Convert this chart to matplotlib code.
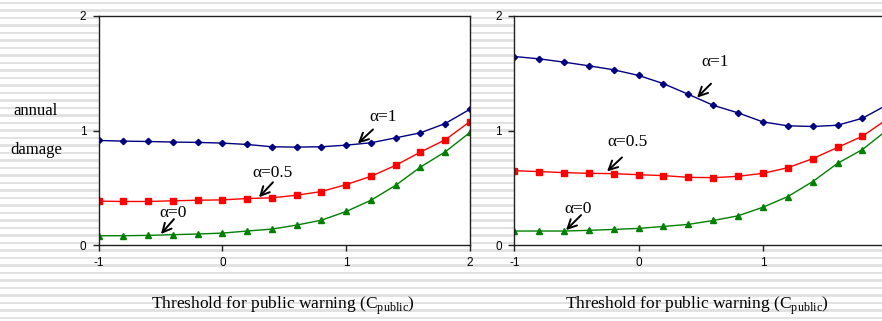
import numpy as np
from matplotlib import pyplot as plt

plt.rcParams['font.family'] = 'Liberation Serif'
plt.rcParams['mathtext.fontset'] = 'custom'
plt.rcParams['mathtext.rm'] = 'Liberation Serif'

# threshold values (x axis)
c_public = [-1.0, -0.8, -0.6, -0.4, -0.2, 0.0, 0.2, 0.4, 0.6, 0.8,
            1.0, 1.2, 1.4, 1.6, 1.8, 2.0]

# left chart
left_a1 = [0.913, 0.907, 0.904, 0.899, 0.896, 0.890, 0.878, 0.858, 0.855, 0.858,
           0.872, 0.893, 0.936, 0.980, 1.061, 1.186]
left_a05 = [0.383, 0.380, 0.380, 0.386, 0.391, 0.394, 0.406, 0.412, 0.435, 0.467,
            0.528, 0.600, 0.696, 0.812, 0.919, 1.078]
left_a0 = [0.081, 0.081, 0.084, 0.090, 0.096, 0.104, 0.122, 0.139, 0.174, 0.217,
           0.293, 0.391, 0.522, 0.681, 0.814, 0.983]

# right chart
right_a1 = [1.646, 1.626, 1.597, 1.565, 1.530, 1.481, 1.409, 1.316, 1.220, 1.154,
            1.075, 1.041, 1.035, 1.046, 1.107, 1.225]
right_a05 = [0.649, 0.641, 0.632, 0.626, 0.623, 0.614, 0.606, 0.591, 0.588, 0.600,
             0.626, 0.675, 0.754, 0.852, 0.950, 1.100]
right_a0 = [0.122, 0.122, 0.122, 0.128, 0.136, 0.145, 0.162, 0.180, 0.214, 0.255,
            0.330, 0.423, 0.554, 0.713, 0.834, 1.005]

x_labels_left = ['-1', '0', '1', '2']
x_labels_right = ['-1', '0', '1', '']   # "2" falls off the slide
y_labels = ['0', '1', '2']

# label text, arrow head, arrow tail, text position
left_notes = [("α=1", (1.094, 0.887), (1.216, 1.009), (1.296, 1.122)),
              ("α=0.5", (0.295, 0.417), (0.408, 0.548), (0.408, 0.626)),
              ("α=0", (-0.497, 0.096), (-0.392, 0.226), (-0.40, 0.278))]
right_notes = [("α=1", (0.470, 1.287), (0.582, 1.409), (0.614, 1.60)),
               ("α=0.5", (-0.254, 0.643), (-0.134, 0.765), (-0.087, 0.896)),
               ("α=0", (-0.584, 0.130), (-0.463, 0.261), (-0.488, 0.313))]

fig = plt.figure(figsize=(8.82, 3.21), dpi=100)

# striped slide background
bg = fig.add_axes([0, 0, 1, 1], zorder=-5)
bg.set_xlim(0, 1)
bg.set_ylim(321, 0)
bg.axis('off')
for y in np.arange(1.5, 321, 7.5):
    bg.axhspan(y, y + 2.6, color='#e2e2e2', lw=0)


def draw_panel(ax, a1, a05, a0, notes, xlabels):
    ax.plot(c_public, a1, color='#000080', marker='D', ms=3.2, lw=1)
    ax.plot(c_public, a05, color='#ff0000', marker='s', ms=4.5, lw=1)
    ax.plot(c_public, a0, color='#008000', marker='^', ms=4.8, lw=1)
    ax.set_xlim(-1, 2)
    ax.set_ylim(0, 2)
    ax.set_xticks([-1, 0, 1, 2])
    ax.set_yticks([0, 1, 2])
    ax.set_xticklabels(xlabels, family='Liberation Sans', fontsize=8.5)
    ax.set_yticklabels(y_labels, family='Liberation Sans', fontsize=8.5)
    ax.tick_params(direction='out', length=4, width=1, pad=5, color='#202020')
    for s in ax.spines.values():
        s.set_linewidth(1)
        s.set_color('#202020')
    ax.set_facecolor('white')
    for txt, head, tail, pos in notes:
        ax.annotate('', xy=head, xytext=tail,
                    arrowprops=dict(arrowstyle='->', lw=1.4, color='black',
                                    mutation_scale=16, shrinkA=0, shrinkB=0))
        ax.text(pos[0], pos[1], txt, fontsize=12.5, ha='center', va='center')


ax1 = fig.add_axes([98.7 / 882, 76 / 321, 371.3 / 882, 229 / 321])
draw_panel(ax1, left_a1, left_a05, left_a0, left_notes, x_labels_left)

ax2 = fig.add_axes([514.3 / 882, 76 / 321, 373 / 882, 229 / 321])
draw_panel(ax2, right_a1, right_a05, right_a0, right_notes, x_labels_right)

fig.text(36 / 882, 1 - 111 / 321, 'annual', fontsize=12, ha='center', va='center')
fig.text(36 / 882, 1 - 150 / 321, 'damage', fontsize=12, ha='center', va='center')

xlab = 'Threshold for public warning (C$_\\mathregular{public}$)'
fig.text(283 / 882, 1 - 306 / 321, xlab, fontsize=12.5, ha='center', va='center')
fig.text(697 / 882, 1 - 306 / 321, xlab, fontsize=12.5, ha='center', va='center')

plt.savefig('out.png', dpi=100)
